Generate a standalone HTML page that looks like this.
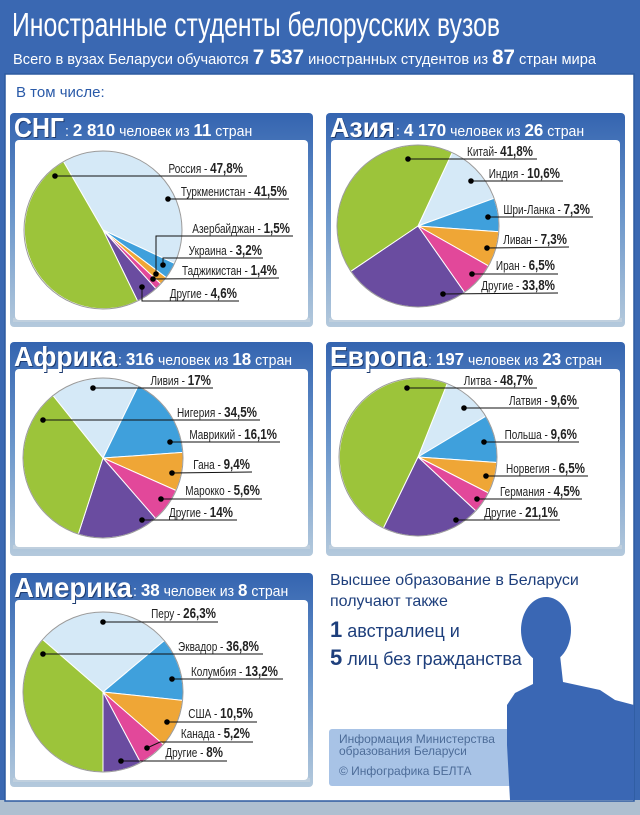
<!DOCTYPE html>
<html><head><meta charset="utf-8">
<style>
html,body{margin:0;padding:0;background:#3a68b2;}
svg{display:block}
text{font-family:"Liberation Sans Narrow","Liberation Sans",sans-serif;}
.t{font-family:"Liberation Sans",sans-serif;}
</style></head>
<body>
<svg id="s" width="640" height="815" viewBox="0 0 640 815" xmlns="http://www.w3.org/2000/svg">
<defs>
<linearGradient id="pg" x1="0" y1="0" x2="0" y2="1">
<stop offset="0" stop-color="#3464b0"/><stop offset="0.5" stop-color="#6d98cc"/><stop offset="1" stop-color="#b4c9dc"/>
</linearGradient>
</defs>
<rect x="0" y="0" width="640" height="815" fill="#3a68b2"/>
<rect x="0" y="800" width="640" height="15" fill="#aebfd0"/>
<rect x="5" y="74" width="629" height="727" fill="#fff" stroke="#2d5aa0" stroke-width="1.5"/>
<text class="t" x="12" y="36" font-size="33" fill="#fff" textLength="488" lengthAdjust="spacingAndGlyphs">Иностранные студенты белорусских вузов</text>
<text x="13" y="64" font-size="15" fill="#fff" textLength="583" lengthAdjust="spacingAndGlyphs">Всего в вузах Беларуси обучаются <tspan font-weight="bold" font-size="21">7 537</tspan> иностранных студентов из <tspan font-weight="bold" font-size="21">87</tspan> стран мира</text>
<text class="t" x="16" y="97" font-size="15" fill="#2a5aa8">В том числе:</text>
<g id="panels"></g>
<text class="t" x="330" y="585" font-size="16" fill="#1e3f7c">Высшее образование в Беларуси</text>
<text class="t" x="330" y="606" font-size="16" fill="#1e3f7c">получают также</text>
<text class="t" x="330" y="637" fill="#1e3f7c"><tspan font-weight="bold" font-size="22">1</tspan><tspan font-size="18"> австралиец и</tspan></text>
<text class="t" x="330" y="665" fill="#1e3f7c"><tspan font-weight="bold" font-size="22">5</tspan><tspan font-size="18"> лиц без гражданства</tspan></text>
<rect x="329" y="729" width="200" height="57" rx="3" fill="#a8c3e6"/>
<g fill="#3a67b4">
<ellipse cx="546" cy="630" rx="25" ry="33"/>
<path d="M533 655 L560 655 L563 682 L600 690 L615 700 L634 705 L634 800 L510 800 L507 745 L507 705 L515 693 L533 684 Z"/>
</g>
<text class="t" x="339" y="743" font-size="12" fill="#4d6c98">Информация Министерства</text>
<text class="t" x="339" y="755" font-size="12" fill="#4d6c98">образования Беларуси</text>
<text class="t" x="339" y="775" font-size="12" fill="#4d6c98">© Инфографика БЕЛТА</text>
</svg>
<script>
var C={g:"#9cc43a",lb:"#d5e9f7",b:"#3fa0dc",o:"#efa636",p:"#e2489a",pu:"#6a4ca0"};
var panels=[
{ox:10,oy:113,w:303,h:214,ix:15,iy:140,iw:293,ih:180,big:"СНГ",bw:50,rest:[": ","2 810"," человек из ","11"," стран"],cx:103,cy:230,r:79,
 sl:[["lb",-30,115],["b",115,127],["o",127,133],["p",133,138],["pu",138,154],["g",154,330]],
 lb:[["Россия - ","47,8%",243,173,[[55,176],[247,176]]],["Туркменистан - ","41,5%",287,196,[[168,199],[289,199]]],["Азербайджан - ","1,5%",290,233,[[156,274],[156,236],[293,236]]],["Украина - ","3,2%",262,255,[[163,265],[163,258],[263,258]]],["Таджикистан - ","1,4%",277,275,[[153,279],[279,278]]],["Другие - ","4,6%",237,298,[[142,287],[142,301],[239,301]]]]},
{ox:326,oy:113,w:299,h:214,ix:331,iy:140,iw:289,ih:180,big:"Азия",bw:65,rest:[": ","4 170"," человек из ","26"," стран"],cx:418,cy:226,r:81,
 sl:[["lb",25,70],["b",70,94],["o",94,119.5],["p",119.5,145],["pu",145,236],["g",236,385]],
 lb:[["Китай- ","41,8%",533,156,[[408,159],[537,159]]],["Индия - ","10,6%",560,178,[[471,181],[563,181]]],["Шри-Ланка - ","7,3%",590,214,[[488,217],[593,217]]],["Ливан - ","7,3%",567,244,[[487,248],[569,247]]],["Иран - ","6,5%",555,270,[[472,274],[558,274]]],["Другие - ","33,8%",555,290,[[443,294],[558,293]]]]},
{ox:10,oy:342,w:303,h:214,ix:15,iy:369,iw:293,ih:178,big:"Африка",bw:103,rest:[": ","316"," человек из ","18"," стран"],cx:103,cy:458,r:80,
 sl:[["lb",-38.7,26],["b",26,86],["o",86,114],["p",114,139],["pu",139,198],["g",198,321.3]],
 lb:[["Ливия - ","17%",211,385,[[93,388],[213,388]]],["Нигерия - ","34,5%",257,417,[[43,420],[260,420]]],["Маврикий - ","16,1%",277,439,[[170,442],[280,442]]],["Гана - ","9,4%",250,469,[[172,473],[252,472]]],["Марокко - ","5,6%",260,495,[[161,499],[262,499]]],["Другие - ","14%",233,517,[[142,520],[237,520]]]]},
{ox:326,oy:342,w:299,h:214,ix:331,iy:369,iw:289,ih:178,big:"Европа",bw:97,rest:[": ","197"," человек из ","23"," стран"],cx:418,cy:457,r:79,
 sl:[["lb",21.7,59],["b",59,94],["o",94,117],["p",117,133],["pu",133,206],["g",206,381.7]],
 lb:[["Литва - ","48,7%",533,385,[[407,388],[537,388]]],["Латвия - ","9,6%",577,405,[[464,408],[579,408]]],["Польша - ","9,6%",577,439,[[484,442],[579,442]]],["Норвегия - ","6,5%",585,473,[[486,476],[588,476]]],["Германия - ","4,5%",580,496,[[477,499],[582,499]]],["Другие - ","21,1%",558,517,[[456,520],[560,520]]]]},
{ox:10,oy:573,w:303,h:214,ix:15,iy:600,iw:293,ih:180,big:"Америка",bw:118,rest:[": ","38"," человек из ","8"," стран"],cx:103,cy:692,r:80,
 sl:[["lb",-49,50],["b",50,96],["o",96,131],["p",131,152],["pu",152,180],["g",180,311]],
 lb:[["Перу - ","26,3%",216,618,[[103,622],[218,622]]],["Эквадор - ","36,8%",259,651,[[43,654],[263,654]]],["Колумбия - ","13,2%",278,676,[[172,679],[283,679]]],["США - ","10,5%",253,718,[[167,722],[257,722]]],["Канада - ","5,2%",250,738,[[147,748],[160,742],[253,742]]],["Другие - ","8%",223,757,[[121,761],[227,761]]]]}
];
function pt(cx,cy,r,a){a=a*Math.PI/180;return [cx+r*Math.sin(a),cy-r*Math.cos(a)];}
var h="";
panels.forEach(function(P){
 h+='<rect x="'+P.ox+'" y="'+P.oy+'" width="'+P.w+'" height="'+P.h+'" rx="4" fill="url(#pg)"/>';
 h+='<rect x="'+(P.ix-2)+'" y="'+(P.iy+P.ih-2)+'" width="'+(P.iw+4)+'" height="4" fill="#c9d6e0" opacity="0.6"/>';
 h+='<rect x="'+P.ix+'" y="'+P.iy+'" width="'+P.iw+'" height="'+P.ih+'" rx="4" fill="#fff"/>';
 var bx=P.ox+4,by=P.oy+24;
 h+='<text class="t" x="'+(bx+1)+'" y="'+(by+1)+'" font-size="28" font-weight="bold" fill="#1d3b70" textLength="'+P.bw+'" lengthAdjust="spacingAndGlyphs">'+P.big+'</text>';
 h+='<text class="t" x="'+bx+'" y="'+by+'" font-size="28" font-weight="bold" fill="#fff" textLength="'+P.bw+'" lengthAdjust="spacingAndGlyphs">'+P.big+'</text>';
 var r=P.rest;
 h+='<g transform="translate('+(bx+P.bw+1)+','+(by-1)+') scale(0.94,1)"><text x="0" y="0" fill="#fff" font-size="15"><tspan>'+r[0]+'</tspan><tspan font-weight="bold" font-size="18">'+r[1]+'</tspan><tspan>'+r[2]+'</tspan><tspan font-weight="bold" font-size="18">'+r[3]+'</tspan><tspan>'+r[4]+'</tspan></text></g>';
 P.sl.forEach(function(s){
  var a=pt(P.cx,P.cy,P.r,s[1]),b=pt(P.cx,P.cy,P.r,s[2]),lg=(s[2]-s[1])>180?1:0;
  h+='<path d="M'+P.cx+' '+P.cy+' L'+a[0].toFixed(1)+' '+a[1].toFixed(1)+' A'+P.r+' '+P.r+' 0 '+lg+' 1 '+b[0].toFixed(1)+' '+b[1].toFixed(1)+' Z" fill="'+C[s[0]]+'" stroke="#fff" stroke-width="1"/>';
 });
 h+='<circle cx="'+P.cx+'" cy="'+P.cy+'" r="'+P.r+'" fill="none" stroke="#9a9a9a" stroke-width="1"/>';
 P.lb.forEach(function(L){
  var pts=L[4];
  h+='<polyline points="'+pts.map(function(p){return p.join(",")}).join(" ")+'" fill="none" stroke="#111" stroke-width="1"/>';
  h+='<circle cx="'+pts[0][0]+'" cy="'+pts[0][1]+'" r="2.8" fill="#000"/>';
  h+='<g transform="translate('+L[2]+','+L[3]+') scale(0.8,1)"><text x="0" y="0" text-anchor="end" fill="#222"><tspan font-size="12.5">'+L[0]+'</tspan><tspan font-size="14.5" font-weight="bold">'+L[1]+'</tspan></text></g>';
 });
});
document.getElementById("panels").innerHTML=h;
</script>
</body></html>
